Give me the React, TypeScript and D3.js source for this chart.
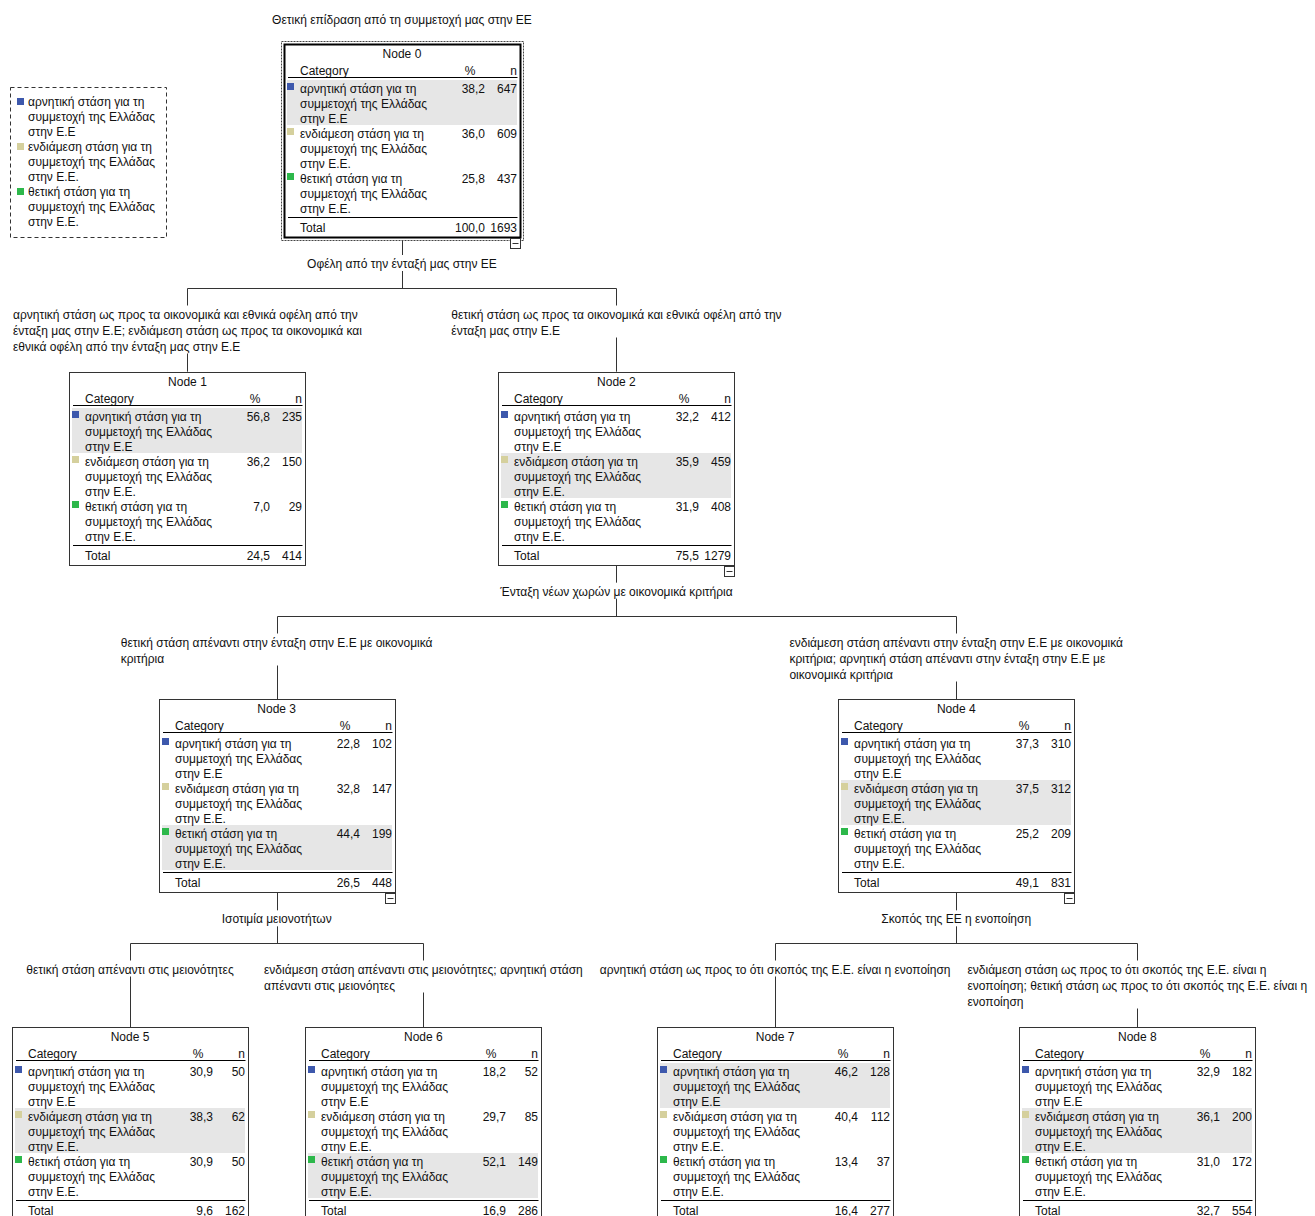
import React, { useMemo } from "react";
import * as d3 from "d3";

// ---------- data ----------
const TITLE = "Θετική επίδραση από τη συμμετοχή μας στην ΕΕ";
const CATEGORY_LABELS: string[][] = [
  ["αρνητική στάση για τη", "συμμετοχή της Ελλάδας", "στην Ε.Ε"],
  ["ενδιάμεση στάση για τη", "συμμετοχή της Ελλάδας", "στην Ε.Ε."],
  ["θετική στάση για τη", "συμμετοχή της Ελλάδας", "στην Ε.Ε."],
];
const CATEGORY_COLORS = ["#3d58ac", "#d5d09d", "#2db84b"];

const NODE_IDS = [0, 1, 2, 3, 4, 5, 6, 7, 8];
const PARENTS: (number | null)[] = [null, 0, 0, 2, 2, 3, 3, 4, 4];
const PCT_NEG = [38.2, 56.8, 32.2, 22.8, 37.3, 30.9, 18.2, 46.2, 32.9];
const N_NEG = [647, 235, 412, 102, 310, 50, 52, 128, 182];
const PCT_MID = [36.0, 36.2, 35.9, 32.8, 37.5, 38.3, 29.7, 40.4, 36.1];
const N_MID = [609, 150, 459, 147, 312, 62, 85, 112, 200];
const PCT_POS = [25.8, 7.0, 31.9, 44.4, 25.2, 30.9, 52.1, 13.4, 31.0];
const N_POS = [437, 29, 408, 199, 209, 50, 149, 37, 172];
const TOTAL_PCT = [100.0, 24.5, 75.5, 26.5, 49.1, 9.6, 16.9, 16.4, 32.7];
const TOTAL_N = [1693, 414, 1279, 448, 831, 162, 286, 277, 554];

const SPLIT_VARS: Record<number, string> = {
  0: "Οφέλη από την ένταξή μας στην ΕΕ",
  2: "Ένταξη νέων χωρών με οικονομικά κριτήρια",
  3: "Ισοτιμία μειονοτήτων",
  4: "Σκοπός της ΕΕ η ενοποίηση",
};

const EDGE_LABELS: Record<number, string[]> = {
  1: [
    "αρνητική στάση ως προς τα οικονομικά και εθνικά οφέλη από την",
    "ένταξη μας στην Ε.Ε; ενδιάμεση στάση ως προς τα οικονομικά και",
    "εθνικά οφέλη από την ένταξη μας στην Ε.Ε",
  ],
  2: ["θετική στάση ως προς τα οικονομικά και εθνικά οφέλη από την", "ένταξη μας στην Ε.Ε"],
  3: ["θετική στάση απέναντι στην ένταξη στην Ε.Ε με οικονομικά", "κριτήρια"],
  4: [
    "ενδιάμεση στάση απέναντι στην ένταξη στην Ε.Ε με οικονομικά",
    "κριτήρια; αρνητική στάση απέναντι στην ένταξη στην Ε.Ε με",
    "οικονομικά κριτήρια",
  ],
  5: ["θετική στάση απέναντι στις μειονότητες"],
  6: ["ενδιάμεση στάση απέναντι στις μειονότητες; αρνητική στάση", "απέναντι στις μειονόητες"],
  7: ["αρνητική στάση ως προς το ότι σκοπός της Ε.Ε. είναι η ενοποίηση"],
  8: [
    "ενδιάμεση στάση ως προς το ότι σκοπός της Ε.Ε. είναι η",
    "ενοποίηση; θετική στάση ως προς το ότι σκοπός της Ε.Ε. είναι η",
    "ενοποίηση",
  ],
};

// ---------- style / layout constants ----------
const FONT = "'Liberation Sans', Arial, sans-serif";
const FS = 12;
const TXT = "#111";
const LINE = "#333";
const BOX_W = 236;
const BOX_H = 193;
const GAP = 15;
const MARGIN = 12;
const LH = 16;

type Row = { id: number; parent: number | null };

const fmtPct = (v: number) => d3.format(".1f")(v).replace(".", ",");

export default function App() {
  const measure = useMemo(() => {
    const c = document.createElement("canvas").getContext("2d")!;
    c.font = `${FS}px ${FONT}`;
    return (s: string) => c.measureText(s).width;
  }, []);

  const { nodes, yTop } = useMemo(() => {
    const rows: Row[] = NODE_IDS.map((id, i) => ({ id, parent: PARENTS[i] }));
    const root = d3
      .stratify<Row>()
      .id((d) => String(d.id))
      .parentId((d) => (d.parent == null ? null : String(d.parent)))(rows);
    const labelW = (id: number) =>
      EDGE_LABELS[id] ? Math.max(...EDGE_LABELS[id].map(measure)) + 2 : 0;
    const nextFree: number[] = [];
    root.eachAfter((node: any) => {
      const id = node.data.id;
      const half = Math.max(BOX_W / 2, labelW(id) / 2);
      if (!node.children) {
        const left = nextFree[node.depth] ?? MARGIN;
        node.x = left + half;
      } else {
        const ch = node.children;
        node.x = (ch[0].x + ch[ch.length - 1].x) / 2;
      }
      nextFree[node.depth] = node.x + half + GAP;
    });
    const maxDepth = d3.max(root.descendants(), (d) => d.depth)!;
    const yTop = d3.scaleLinear().domain([0, maxDepth]).range([44, 1027]);
    return { nodes: root.descendants() as any[], yTop };
  }, [measure]);

  const txt = (props: any, s: string, key?: any) => (
    <text key={key} fontFamily={FONT} fontSize={FS} fill={TXT} {...props}>
      {s}
    </text>
  );

  const edges: React.ReactNode[] = [];
  nodes.forEach((p) => {
    if (!p.children) return;
    const bottom = yTop(p.depth) + BOX_H;
    const labCy = bottom + 26;
    const barY = Math.round(bottom + 51) + 0.5;
    const id = p.data.id;
    const px = Math.round(p.x) + 0.5;
    edges.push(
      <g key={"e" + id}>
        <line x1={px} x2={px} y1={bottom} y2={labCy - 8} stroke={LINE} />
        {txt({ x: p.x, y: labCy + 5, textAnchor: "middle" }, SPLIT_VARS[id])}
        <line x1={px} x2={px} y1={labCy + 8} y2={barY} stroke={LINE} />
        <line
          x1={Math.round(p.children[0].x) + 0.5}
          x2={Math.round(p.children[p.children.length - 1].x) + 0.5}
          y1={barY}
          y2={barY}
          stroke={LINE}
        />
        {p.children.map((c: any) => {
          const lines = EDGE_LABELS[c.data.id] || [];
          const w = Math.max(...lines.map(measure));
          const left = c.x - w / 2;
          const cx = Math.round(c.x) + 0.5;
          const firstCy = barY + 25;
          const lastCy = firstCy + (lines.length - 1) * LH;
          return (
            <g key={"c" + c.data.id}>
              <line x1={cx} x2={cx} y1={barY} y2={firstCy - 8} stroke={LINE} />
              {lines.map((s, j) => txt({ x: left, y: firstCy + j * LH + 5 }, s, j))}
              <line x1={cx} x2={cx} y1={lastCy + 8} y2={yTop(c.depth)} stroke={LINE} />
            </g>
          );
        })}
      </g>
    );
  });

  const boxes = nodes.map((n) => {
    const i = n.data.id;
    const L = Math.round(n.x - BOX_W / 2) + 0.5;
    const T = Math.round(yTop(n.depth)) + 0.5;
    const pcts = [PCT_NEG[i], PCT_MID[i], PCT_POS[i]];
    const ns = [N_NEG[i], N_MID[i], N_POS[i]];
    const modal = d3.maxIndex(pcts);
    const isRoot = n.depth === 0;
    return (
      <g key={"n" + i}>
        {isRoot && (
          <rect
            x={L - 3}
            y={T - 3}
            width={BOX_W + 6}
            height={BOX_H + 6}
            fill="white"
            stroke="#444"
            strokeDasharray="2,1"
          />
        )}
        <rect
          x={L}
          y={T}
          width={BOX_W}
          height={BOX_H}
          fill="white"
          stroke={isRoot ? "#000" : LINE}
          strokeWidth={isRoot ? 2 : 1}
        />
        <rect
          x={L + 2.5}
          y={T + 35.5 + modal * 45}
          width={230}
          height={45}
          fill="#e6e6e6"
        />
        {txt({ x: n.x, y: T + 13.5, textAnchor: "middle" }, `Node ${i}`)}
        {txt({ x: L + 15.5, y: T + 30.5 }, "Category")}
        {txt({ x: L + 185.5, y: T + 30.5, textAnchor: "middle" }, "%")}
        {txt({ x: L + 232.5, y: T + 30.5, textAnchor: "end" }, "n")}
        <line x1={L + 3.5} x2={L + 233} y1={T + 33} y2={T + 33} stroke="#000" />
        {pcts.map((p, k) => (
          <g key={k}>
            <rect
              x={L + 2.5}
              y={T + 38.5 + k * 45}
              width={7}
              height={7}
              fill={CATEGORY_COLORS[k]}
            />
            {CATEGORY_LABELS[k].map((s, j) =>
              txt({ x: L + 15.5, y: T + 48.5 + k * 45 + j * 15 }, s, j)
            )}
            {txt({ x: L + 200.5, y: T + 48.5 + k * 45, textAnchor: "end" }, fmtPct(p))}
            {txt({ x: L + 232.5, y: T + 48.5 + k * 45, textAnchor: "end" }, String(ns[k]))}
          </g>
        ))}
        <line x1={L + 3.5} x2={L + 233} y1={T + 173} y2={T + 173} stroke="#000" />
        {txt({ x: L + 15.5, y: T + 187.5 }, "Total")}
        {txt({ x: L + 200.5, y: T + 187.5, textAnchor: "end" }, fmtPct(TOTAL_PCT[i]))}
        {txt({ x: L + 232.5, y: T + 187.5, textAnchor: "end" }, String(TOTAL_N[i]))}
        {n.children && (
          <g>
            <rect
              x={L + BOX_W - 10}
              y={T + BOX_H + 1}
              width={10}
              height={10}
              fill="white"
              stroke={LINE}
            />
            <line
              x1={L + BOX_W - 8}
              x2={L + BOX_W - 2}
              y1={T + BOX_H + 6}
              y2={T + BOX_H + 6}
              stroke={LINE}
            />
          </g>
        )}
      </g>
    );
  });

  const rootNode = nodes[0];

  return (
    <>
      <style>{`body{margin:0;overflow:hidden}`}</style>
      <svg width={1315} height={1216} style={{ display: "block", background: "white" }}>
        {txt({ x: rootNode.x, y: 24, textAnchor: "middle" }, TITLE)}
        <g>
          <rect
            x={10.5}
            y={87.5}
            width={156}
            height={150}
            fill="white"
            stroke="#333"
            strokeDasharray="4,3"
          />
          {CATEGORY_LABELS.map((lines, k) => (
            <g key={k}>
              <rect x={17} y={98 + k * 45} width={7} height={7} fill={CATEGORY_COLORS[k]} />
              {lines.map((s, j) => txt({ x: 28, y: 106 + k * 45 + j * 15 }, s, j))}
            </g>
          ))}
        </g>
        {edges}
        {boxes}
      </svg>
    </>
  );
}
